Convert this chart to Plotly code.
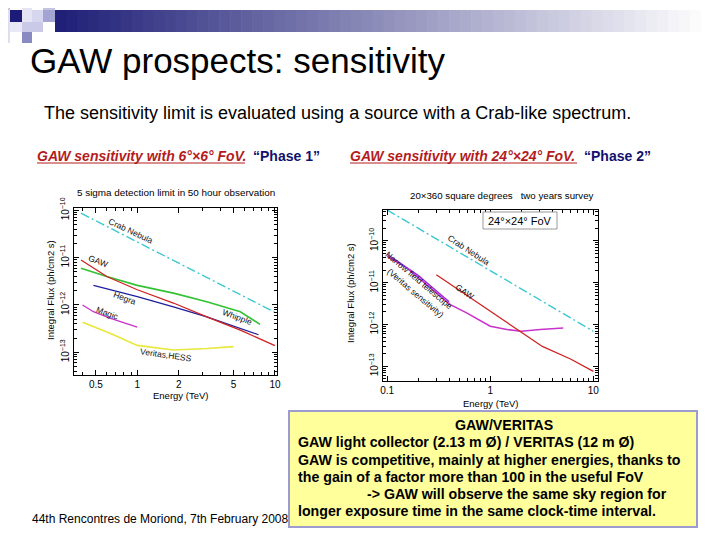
import plotly.graph_objects as go

W, H = 720, 540
OFF_X, OFF_Y = 8, 8   # page body margin of the rendered html

# ---------------- data: left panel (Phase 1, 6x6 deg FoV) ----------------
crab1_E = [0.39, 10.0]
crab1_F = [8.7e-11, 7.0e-13]
gaw1_E = [0.39, 0.60, 1.0, 1.83, 3.2, 5.6, 10.0]
gaw1_F = [8.9e-12, 4.0e-12, 2.1e-12, 1.1e-12, 5.6e-13, 2.95e-13, 1.38e-13]
whipple_E = [0.39, 0.60, 1.0, 1.83, 3.2, 5.6, 7.8]
whipple_F = [6.0e-12, 4.0e-12, 2.6e-12, 1.78e-12, 1.17e-12, 7.2e-13, 3.9e-13]
hegra_E = [0.48, 1.0, 1.83, 3.2, 7.6]
hegra_F = [2.6e-12, 1.5e-12, 9.1e-13, 5.6e-13, 2.35e-13]
magic_E = [0.40, 0.48, 0.64, 0.84, 1.0]
magic_F = [1.0e-12, 7.2e-13, 5.2e-13, 4.1e-13, 3.4e-13]
vh_E = [0.40, 0.64, 1.0, 1.83, 3.2, 5.0]
vh_F = [4.3e-13, 2.5e-13, 1.4e-13, 1.12e-13, 1.2e-13, 1.32e-13]

# ---------------- data: right panel (Phase 2, 24x24 deg FoV) ----------------
crab2_E = [0.1, 10.0]
crab2_F = [5.5e-10, 6.9e-13]
gaw2_E = [0.30, 1.0, 2.0, 3.2, 6.0, 10.0]
gaw2_F = [1.55e-11, 2.1e-12, 6.6e-13, 3.0e-13, 1.5e-13, 7.6e-14]
nft_E = [0.1, 0.156, 0.305, 0.41, 0.59, 1.0, 1.45, 2.0, 3.05, 5.1]
nft_F = [4.3e-11, 2.24e-11, 5.6e-12, 3.0e-12, 1.9e-12, 9.1e-13, 7.6e-13, 6.9e-13, 7.6e-13, 8.3e-13]
nft2_E = [0.1, 0.2, 0.4]
nft2_F = [4.8e-11, 1.5e-11, 3.5e-12]

# tick labels
x1_ticks = [0.5, 1, 2, 5, 10]
x1_text = ["0.5", "1", "2", "5", "10"]
x2_ticks = [0.1, 1, 10]
x2_text = ["0.1", "1", "10"]
y_ticks = [1e-13, 1e-12, 1e-11, 1e-10]
y_text = ["10<sup>−13</sup>", "10<sup>−12</sup>", "10<sup>−11</sup>", "10<sup>−10</sup>"]

box_lines = [
    "GAW/VERITAS",
    "GAW light collector (2.13 m Ø) / VERITAS (12 m Ø)",
    "GAW is competitive, mainly at higher energies, thanks to",
    "the gain of a factor more than 100 in the useful FoV",
    "-> GAW will observe the same sky region for",
    "longer exposure time in the same clock-time interval.",
]

FONT = "Liberation Sans, Arial, sans-serif"


def px(x):
    return (x - OFF_X) / W


def py(y):
    return 1 - (y - OFF_Y) / H


fig = go.Figure()

CYAN = "#3cc8d2"


def add(xs, ys, color, xa, ya, width=1.4, dash="solid"):
    fig.add_trace(go.Scatter(x=xs, y=ys, mode="lines", xaxis=xa, yaxis=ya,
                             line=dict(color=color, width=width, dash=dash),
                             hoverinfo="skip", showlegend=False))


CRAB_DASH = "9px,3px,2px,3px"
add(crab1_E, crab1_F, CYAN, "x", "y", 1.4, CRAB_DASH)
add(vh_E, vh_F, "#e8e83a", "x", "y", 1.6)
add(magic_E, magic_F, "#c833c8", "x", "y", 1.4)
add(whipple_E, whipple_F, "#33c233", "x", "y", 1.6)
add(hegra_E, hegra_F, "#1f1f9c", "x", "y", 1.3)
add(gaw1_E, gaw1_F, "#d02222", "x", "y", 1.3)

add(crab2_E, crab2_F, CYAN, "x2", "y2", 1.4, CRAB_DASH)
add(nft2_E, nft2_F, "#9a2ae0", "x2", "y2", 1.3)
add(nft_E, nft_F, "#c833cc", "x2", "y2", 1.6)
add(gaw2_E, gaw2_F, "#d02222", "x2", "y2", 1.3)

minor_x = [m * 10 ** e for e in range(-2, 2) for m in range(2, 10)]
minor_y = [m * 10 ** e for e in range(-15, -8) for m in range(2, 10)]

axis_common = dict(type="log", showline=True, linecolor="black", linewidth=1,
                   mirror="allticks", ticks="inside", ticklen=5, tickcolor="black",
                   showgrid=False, zeroline=False, automargin=False,
                   tickfont=dict(family=FONT, size=10, color="black"))

fig.update_layout(
    width=W, height=H, margin=dict(l=0, r=0, t=0, b=0, autoexpand=False),
    paper_bgcolor="white", plot_bgcolor="white", showlegend=False,
    xaxis=dict(axis_common, domain=[px(74), px(277)], range=[-0.46, 1.015], anchor="y",
               tickvals=x1_ticks, ticktext=x1_text,
               minor=dict(tickvals=[v for v in minor_x if v not in (0.5, 2, 5)], ticks="inside", ticklen=3, tickcolor="black")),
    yaxis=dict(axis_common, domain=[py(375), py(208)], range=[-13.48, -9.95], anchor="x",
               tickvals=y_ticks, ticktext=y_text, tickangle=-90,
               minor=dict(tickvals=minor_y, ticks="inside", ticklen=3, tickcolor="black")),
    xaxis2=dict(axis_common, domain=[px(383), px(597.5)], range=[-1.04, 1.04], anchor="y2",
                tickvals=x2_ticks, ticktext=x2_text,
                minor=dict(tickvals=minor_x, ticks="inside", ticklen=3, tickcolor="black")),
    yaxis2=dict(axis_common, domain=[py(381), py(210)], range=[-13.35, -9.26], anchor="x2",
                tickvals=y_ticks, ticktext=y_text, tickangle=-90,
                minor=dict(tickvals=minor_y, ticks="inside", ticklen=3, tickcolor="black")),
)

shapes = []
# header decoration: gradient bar
n = 60
x0, x1 = 55, 712
for i in range(n):
    t = i / (n - 1)
    r = int(32 + (255 - 32) * t)
    g = int(32 + (255 - 32) * t)
    b = int(120 + (255 - 120) * t)
    xa = x0 + (x1 - x0) * i / n
    xb = x0 + (x1 - x0) * (i + 1) / n + 0.6
    shapes.append(dict(type="rect", xref="paper", yref="paper", x0=px(xa), x1=px(xb),
                       y0=py(32), y1=py(10), line=dict(width=0), fillcolor=f"rgb({r},{g},{b})", layer="below"))
# header squares
squares = [
    (0, 0, 10, 10, "#c9c9e6"), (0, 10, 10, 43, "#dedef0"), (10, 10, 22, 22, "#1c1c78"),
    (22, 0, 32, 22, "#e4e4f4"), (32, 10, 43, 22, "#d6d6ee"), (43, 0, 55, 10, "#c4c4e2"),
    (43, 10, 55, 22, "#a4a4d2"), (22, 22, 43, 32, "#cacae8"), (22, 32, 32, 43, "#8a8ac2"),
    (10, 22, 22, 32, "#e8e8f6"),
]
for (a, b_, c, d, col) in squares:
    shapes.append(dict(type="rect", xref="paper", yref="paper", x0=px(a), x1=px(c),
                       y0=py(d), y1=py(b_), line=dict(width=0), fillcolor=col, layer="below"))
# FoV label box in right panel
shapes.append(dict(type="rect", xref="paper", yref="paper", x0=px(483), x1=px(557),
                   y0=py(229), y1=py(212), line=dict(color="#999999", width=1), fillcolor="white"))
# yellow text box
shapes.append(dict(type="rect", xref="paper", yref="paper", x0=px(289), x1=px(697),
                   y0=py(527), y1=py(411), line=dict(color="#9c9cd0", width=2), fillcolor="#ffff9c"))
# underlines for red headings
shapes.append(dict(type="line", xref="paper", yref="paper", x0=px(37), x1=px(245),
                   y0=py(163), y1=py(163), line=dict(color="#b41c1c", width=1)))
shapes.append(dict(type="line", xref="paper", yref="paper", x0=px(350), x1=px(577),
                   y0=py(163), y1=py(163), line=dict(color="#b41c1c", width=1)))
fig.update_layout(shapes=shapes)

ann = []


def txt(text, x, y, size, color="black", xanchor="left", angle=0, bold=False, italic=False, family=FONT):
    if bold:
        text = f"<b>{text}</b>"
    if italic:
        text = f"<i>{text}</i>"
    ann.append(dict(text=text, xref="paper", yref="paper", x=px(x), y=py(y), xanchor=xanchor,
                    yanchor="middle", showarrow=False, textangle=angle,
                    font=dict(family=family, size=size, color=color)))


def dtxt(text, xr, yr, lx, ly, angle, size=8.5):
    ann.append(dict(text=text, xref=xr, yref=yr, x=lx, y=ly, xanchor="center", yanchor="middle",
                    showarrow=False, textangle=angle, font=dict(family=FONT, size=size, color="#111111")))


# slide texts
txt("GAW prospects: sensitivity", 28, 61, 35)
txt("The sensitivity limit is evaluated using a source with a Crab-like spectrum.", 42, 113, 18)
txt("GAW sensitivity with 6°×6° FoV.", 35, 156, 14, color="#b41c1c", bold=True, italic=True)
txt("“Phase 1”", 251, 156, 14, color="#12126e", bold=True)
txt("GAW sensitivity with 24°×24° FoV.", 348, 156, 14, color="#b41c1c", bold=True, italic=True)
txt("“Phase 2”", 582, 156, 14, color="#12126e", bold=True)
txt("44th Rencontres de Moriond, 7th February 2008", 30, 519, 12)

# panel titles / axis titles
txt("5 sigma detection limit in 50 hour observation", 176, 192, 9.9, xanchor="center")
txt("Energy (TeV)", 180, 395, 9.5, xanchor="center")
txt("Integral Flux (ph/cm2 s)", 50, 290, 9.5, xanchor="center", angle=-90)
txt("20×360 square degrees   two years survey", 502, 195, 9.7, xanchor="center")
txt("Energy (TeV)", 491, 403, 9.5, xanchor="center")
txt("Integral Flux (ph/cm2 s)", 350, 293, 9.5, xanchor="center", angle=-90)
txt("24°×24° FoV", 520, 220.5, 11, xanchor="center")

# curve labels (left)
dtxt("Crab Nebula", "x", "y", -0.046, -10.43, 25)
dtxt("GAW", "x", "y", -0.288, -11.08, 20)
dtxt("Hegra", "x", "y", -0.094, -11.86, 20)
dtxt("Magic", "x", "y", -0.22, -12.16, 20)
dtxt("Whipple", "x", "y", 0.727, -12.25, 20)
dtxt("Veritas,HESS", "x", "y", 0.21, -13.06, 8)
# curve labels (right)
dtxt("Crab Nebula", "x2", "y2", -0.21, -10.21, 33)
dtxt("GAW", "x2", "y2", -0.242, -11.21, 35)
dtxt("Narrow field telescope", "x2", "y2", -0.694, -10.93, 40)
dtxt("(Veritas sensitivity)", "x2", "y2", -0.726, -11.25, 40)

# yellow box lines
line_y = [425, 442, 460, 477, 494, 511]
BS = 14.2
txt(box_lines[0], 504, line_y[0], BS, xanchor="center", bold=True)
txt(box_lines[1], 296, line_y[1], BS, bold=True)
txt(box_lines[2], 296, line_y[2], BS, bold=True)
txt(box_lines[3], 296, line_y[3], BS, bold=True)
txt(box_lines[4], 365, line_y[4], BS, bold=True)
txt(box_lines[5], 296, line_y[5], BS, bold=True)

fig.update_layout(annotations=ann)
fig.write_html("out.html")
